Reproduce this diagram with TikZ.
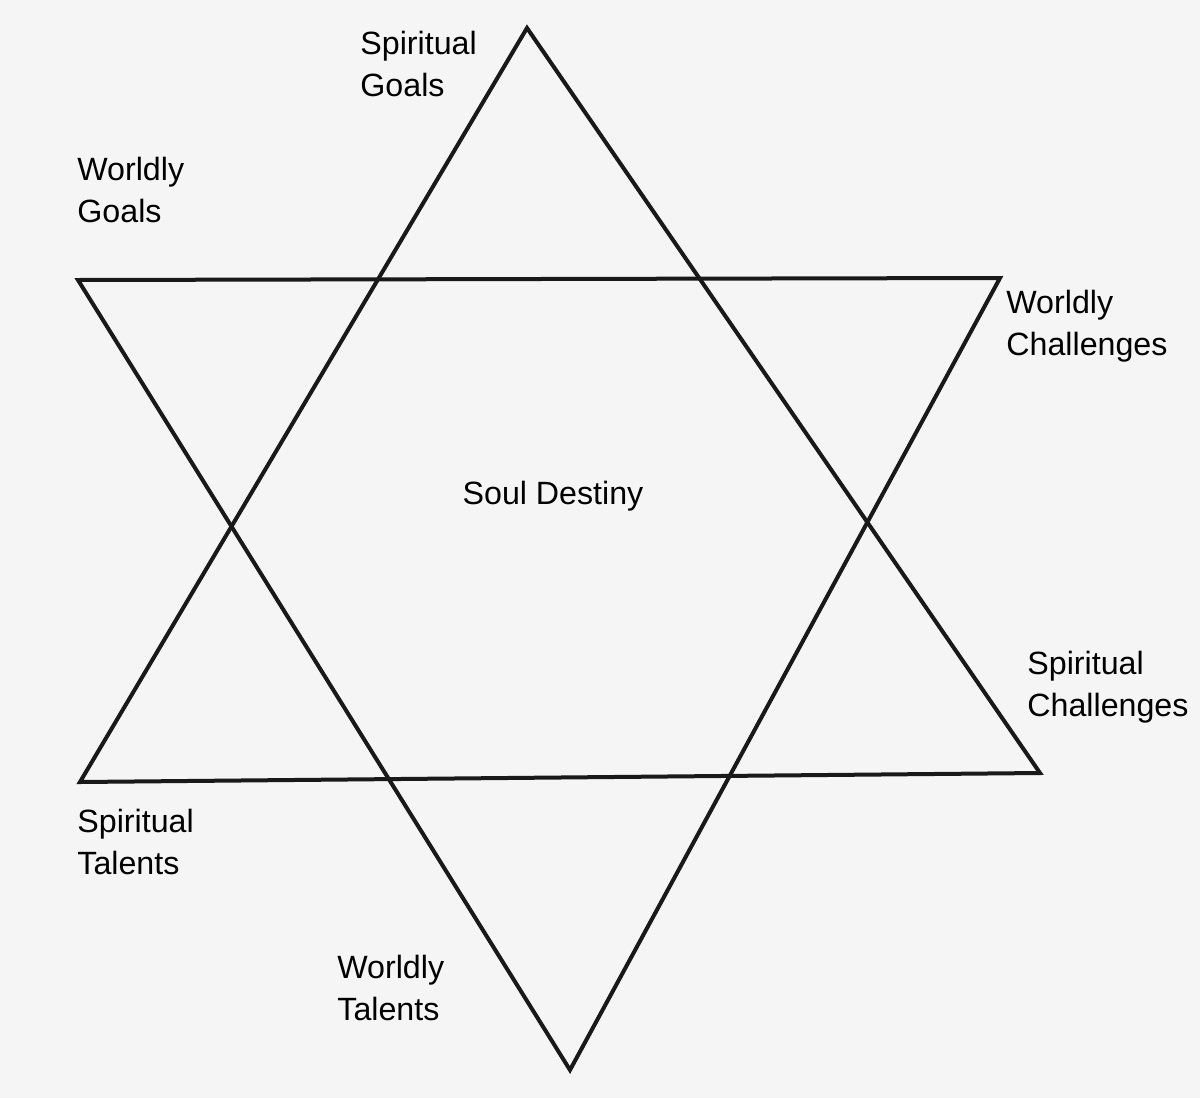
\documentclass[tikz,border=0pt]{standalone}
\usepackage{fontspec}
\setmainfont{Liberation Sans}
\usetikzlibrary{positioning}
\tikzset{%
  edge/.style={draw=black!90, line width=2pt, line join=miter},
  lbl/.style={anchor=base west, align=left, inner sep=0pt}%
}

\begin{document}
\begin{tikzpicture}[
    x=0.5pt,
    y=-0.5pt,
    font=\fontsize{16.1}{20.8}\selectfont
]

% Background
\fill[black!4] (0,0) rectangle (1200,1098);
\useasboundingbox (0,0) rectangle (1200,1098);

% Corners
\coordinate (up) at (527,28);
\coordinate (upleft) at (80,782);
\coordinate (upright) at (1040,773);
\coordinate (downleft) at (78,280);
\coordinate (downright) at (1000,278);
\coordinate (down) at (570,1070);

% Triangles
\draw[edge] (up) -- (upright) -- (upleft) -- cycle;
\draw[edge] (downleft) -- (downright) -- (down) -- cycle;

% Labels (base = last line)
\node[lbl] (spgoals) at (360,96) {Spiritual\\Goals};
\node[lbl] (wgoals) at (77,222) {Worldly\\Goals};
\node[lbl] (wchall) at (1006,355) {Worldly\\Challenges};
\node[anchor=base, inner sep=0pt] (soul) at (553,504) {Soul Destiny};
\node[lbl] (spchall) at (1027,716) {Spiritual\\Challenges};
\node[lbl] (sptal) at (77,874) {Spiritual\\Talents};
\node[lbl] (wtal) at (337,1020) {Worldly\\Talents};

\end{tikzpicture}
\end{document}
